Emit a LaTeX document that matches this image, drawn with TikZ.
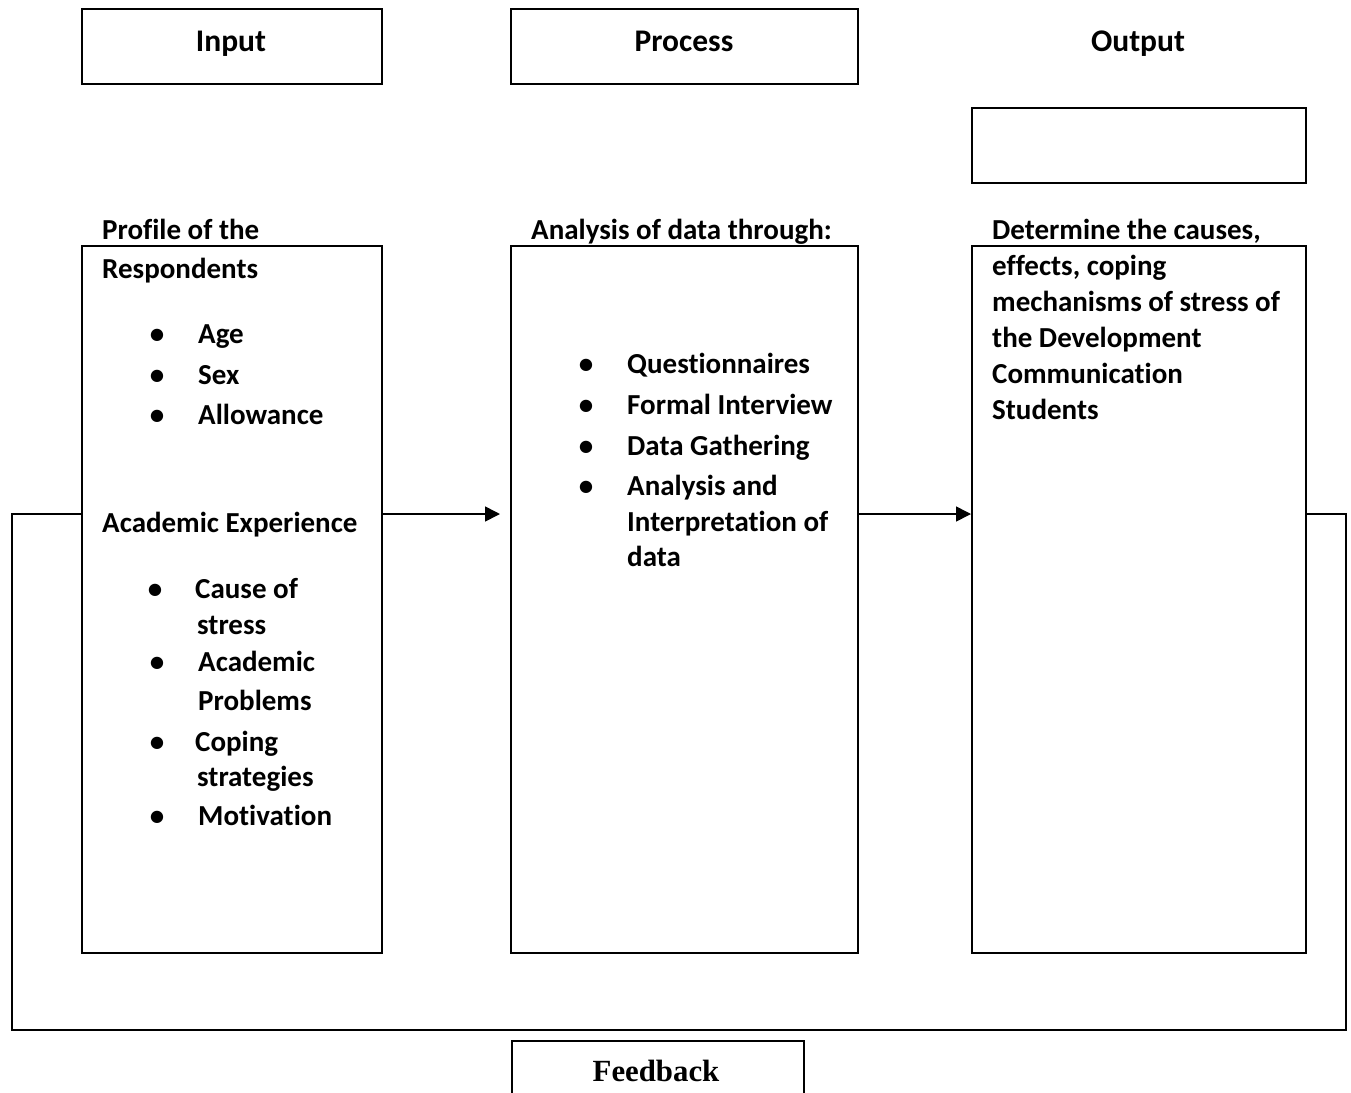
\documentclass[tikz,border=0pt]{standalone}
\usepackage{fontspec}
\setmainfont{Carlito}[Ligatures={NoCommon,NoContextual,NoRare}, Contextuals={NoAlternate}]
\newfontfamily\tnrfont{Liberation Serif}
\usetikzlibrary{arrows.meta}
\newcommand\bodyf{\fontsize{29}{36}\selectfont\bfseries}
\newcommand\hdrf{\fontsize{31.5}{38}\selectfont\bfseries}
\newcommand\fbf{\tnrfont\fontsize{30.8}{36}\selectfont\bfseries}
\tikzset{
  box/.style={draw, line width=1.6pt, inner sep=0pt, anchor=north west},
  ln/.style={anchor=base west, inner sep=0pt, font=\bodyf},
  bul/.style={anchor=base, inner sep=0pt, font=\bodyf},
  hdr/.style={anchor=base, inner sep=0pt, font=\hdrf},
  wire/.style={line width=1.6pt},
  arr/.style={line width=1.6pt, -{Triangle[length=15pt,width=15pt]}}
}
\begin{document}
\begin{tikzpicture}[x=1pt,y=-1pt]
\clip (0,0) rectangle (1351,1092);
% header boxes
\node[box, minimum width=300pt, minimum height=75pt] (ihead) at (81,8) {};
\node[box, minimum width=347pt, minimum height=75pt] (phead) at (510,8) {};
\node[box, minimum width=334pt, minimum height=75pt] (oempty) at (971,107) {};
\node[hdr] (tinput) at (231,51) {Input};
\node[hdr] (tprocess) at (684,51) {Process};
\node[hdr] (toutput) at (1138,51) {Output};
% main boxes
\node[box, minimum width=300pt, minimum height=707pt] (ibox) at (81,245) {};
\node[box, minimum width=347pt, minimum height=707pt] (pbox) at (510,245) {};
\node[box, minimum width=334pt, minimum height=707pt] (obox) at (971,245) {};
% left texts
\node[ln] (l1) at (102,239) {Profile of the};
\node[ln] (l2) at (102,278) {Respondents};
\node[bul] (b1) at (157,343) {\textbullet};
\node[ln] (l3) at (198,343) {Age};
\node[bul] (b2) at (157,384) {\textbullet};
\node[ln] (l4) at (198,384) {Sex};
\node[bul] (b3) at (157,424) {\textbullet};
\node[ln] (l5) at (198,424) {Allowance};
\node[ln] (l6) at (102,532) {Academic Experience};
\node[bul] (b4) at (155,598) {\textbullet};
\node[ln] (l7) at (195,598) {Cause of};
\node[ln] (l8) at (197,634) {stress};
\node[bul] (b5) at (157,671) {\textbullet};
\node[ln] (l9) at (198,671) {Academic};
\node[ln] (l10) at (198,710) {Problems};
\node[bul] (b6) at (157,751) {\textbullet};
\node[ln] (l11) at (195,751) {Coping};
\node[ln] (l12) at (197,786) {strategies};
\node[bul] (b7) at (157,825) {\textbullet};
\node[ln] (l13) at (198,825) {Motivat\kern0pt ion};
% middle texts
\node[ln] (m1) at (531,239) {Analysis of data through:};
\node[bul] (mb1) at (586,373) {\textbullet};
\node[ln] (m2) at (627,373) {Questionnaires};
\node[bul] (mb2) at (586,414) {\textbullet};
\node[ln] (m3) at (627,414) {Formal Interview};
\node[bul] (mb3) at (586,455) {\textbullet};
\node[ln] (m4) at (627,455) {Data Gathering};
\node[bul] (mb4) at (586,495) {\textbullet};
\node[ln] (m5) at (627,495) {Analysis and};
\node[ln] (m6) at (627,531) {Interpretat\kern0pt ion of};
\node[ln] (m7) at (627,566) {data};
% right texts
\node[ln] (r1) at (992,239) {Determine the causes,};
\node[ln] (r2) at (992,275) {ef\kern0pt fects, coping};
\node[ln] (r3) at (992,311) {mechanisms of stress of};
\node[ln] (r4) at (992,347) {the Development};
\node[ln] (r5) at (992,383) {Communicat\kern0pt ion};
\node[ln] (r6) at (992,419) {Students};
% connectors
\coordinate (a1end) at (500,514);
\draw[arr] (ibox.east |- a1end) -- (a1end);
\draw[arr] (pbox.east |- a1end) -- (obox.west |- a1end);
\coordinate (fbl) at (12,1030);
\coordinate (fbr) at (1346,1030);
\draw[wire] (ibox.west |- a1end) -- (fbl |- a1end) -- (fbl) -- (fbr) -- (fbr |- a1end) -- (obox.east |- a1end);
% feedback
\node[box, minimum width=292pt, minimum height=70pt] (fbox) at (511,1040) {};
\node[anchor=base, inner sep=0pt, font=\fbf] (tfb) at (656,1081) {Feedback};
\end{tikzpicture}
\end{document}
